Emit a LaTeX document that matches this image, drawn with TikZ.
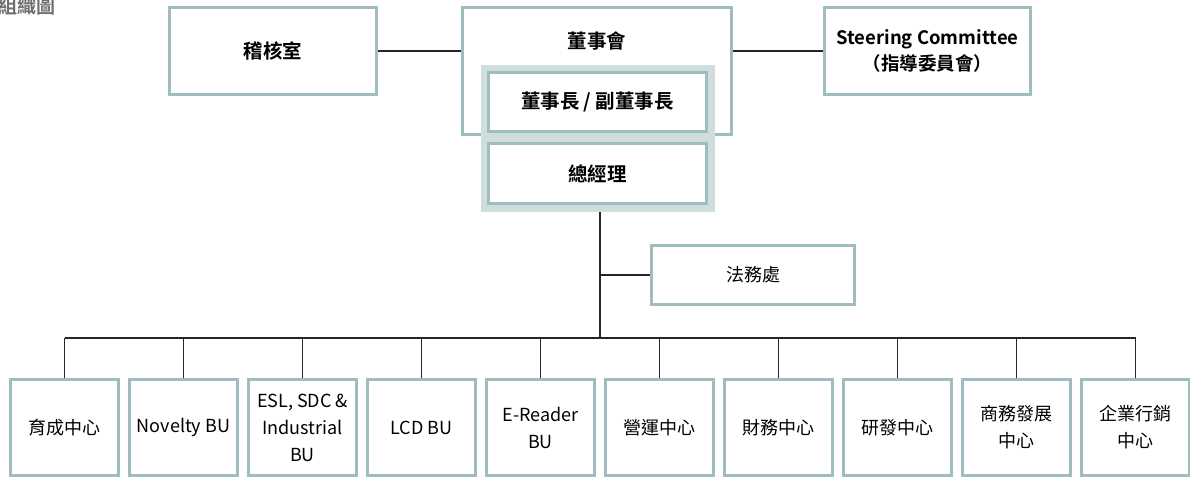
\documentclass[tikz,border=0pt]{standalone}
\usepackage{fontspec}
\setmainfont{Noto Sans CJK TC}[BoldFont={Noto Sans CJK TC Bold}]
\usepackage{xcolor}
\usepackage{tikz}
\definecolor{boxline}{HTML}{9FBDBE}
\definecolor{bandfill}{HTML}{CFDEDC}
\definecolor{titlegray}{HTML}{6E6E6E}

\tikzset{
    unitbox/.style={draw=boxline, line width=3pt, fill=white, align=center, inner sep=0pt},
    toptext/.style={font=\fontsize{19.5}{26}\selectfont\bfseries},
    subtext/.style={font=\fontsize{18}{27}\selectfont},
    link/.style={draw=black!85, line width=1.1pt},
}

\begin{document}
\begin{tikzpicture}[x=1pt, y=-1pt]
    \useasboundingbox (0,0) rectangle (1190,479);

    % title
    \node[font=\fontsize{19}{22}\selectfont\bfseries, text=titlegray, anchor=base west, inner sep=0pt] (title) at (-2,13) {組織圖};

    % draw top boxes
    \node[unitbox, toptext, minimum width=207pt, minimum height=87pt] (audit) at (273,51) {稽核室};
    \node[unitbox, minimum width=269pt, minimum height=127pt] (board) at (597,71) {};
    \node[toptext, inner sep=0pt] (boardlabel) at (597,41) {董事會};
    \node[unitbox, toptext, font=\fontsize{18.5}{26}\selectfont\bfseries, minimum width=206pt, minimum height=87pt] (steer) at (927.5,51) {Steering Committee\\（指導委員會）};

    % chairman and president
    \node[fill=bandfill, minimum width=234pt, minimum height=147pt, inner sep=0pt] (band) at (598,138.5) {};
    \node[unitbox, toptext, minimum width=218pt, minimum height=59pt] (chair) at (597.5,102) {董事長 / 副董事長};
    \node[unitbox, toptext, minimum width=218pt, minimum height=60pt] (gm) at (597.5,173.5) {總經理};

    % legal office
    \node[unitbox, subtext, minimum width=203pt, minimum height=59pt] (legal) at (753,275) {法務處};

    % draw top links
    \draw[link] (audit.east) -- (audit.east -| board.west);
    \draw[link] (steer.west -| board.east) -- (steer.west);

    % main line and bus
    \coordinate (bus) at (600,338);
    \draw[link] (band.south -| bus) -- (bus);
    \draw[link] (legal.west) -- (legal.west -| bus);

    % draw business units
    \foreach \txt [count=\i from 0] in {{育成中心}, {Novelty BU}, {ESL, SDC \&\\Industrial\\BU}, {LCD BU}, {E-Reader\\BU}, {營運中心}, {財務中心}, {研發中心}, {商務發展\\中心}, {企業行銷\\中心}}
        \node[unitbox, subtext, minimum width=108pt, minimum height=96pt] (unit\i) at (64.5+119*\i,427.5) {\txt};

    \draw[link] (unit0.north |- bus) -- (unit9.north |- bus);
    \foreach \i in {0,...,9}
        \draw[link] (unit\i.north |- bus) -- (unit\i.north);
\end{tikzpicture}
\end{document}
